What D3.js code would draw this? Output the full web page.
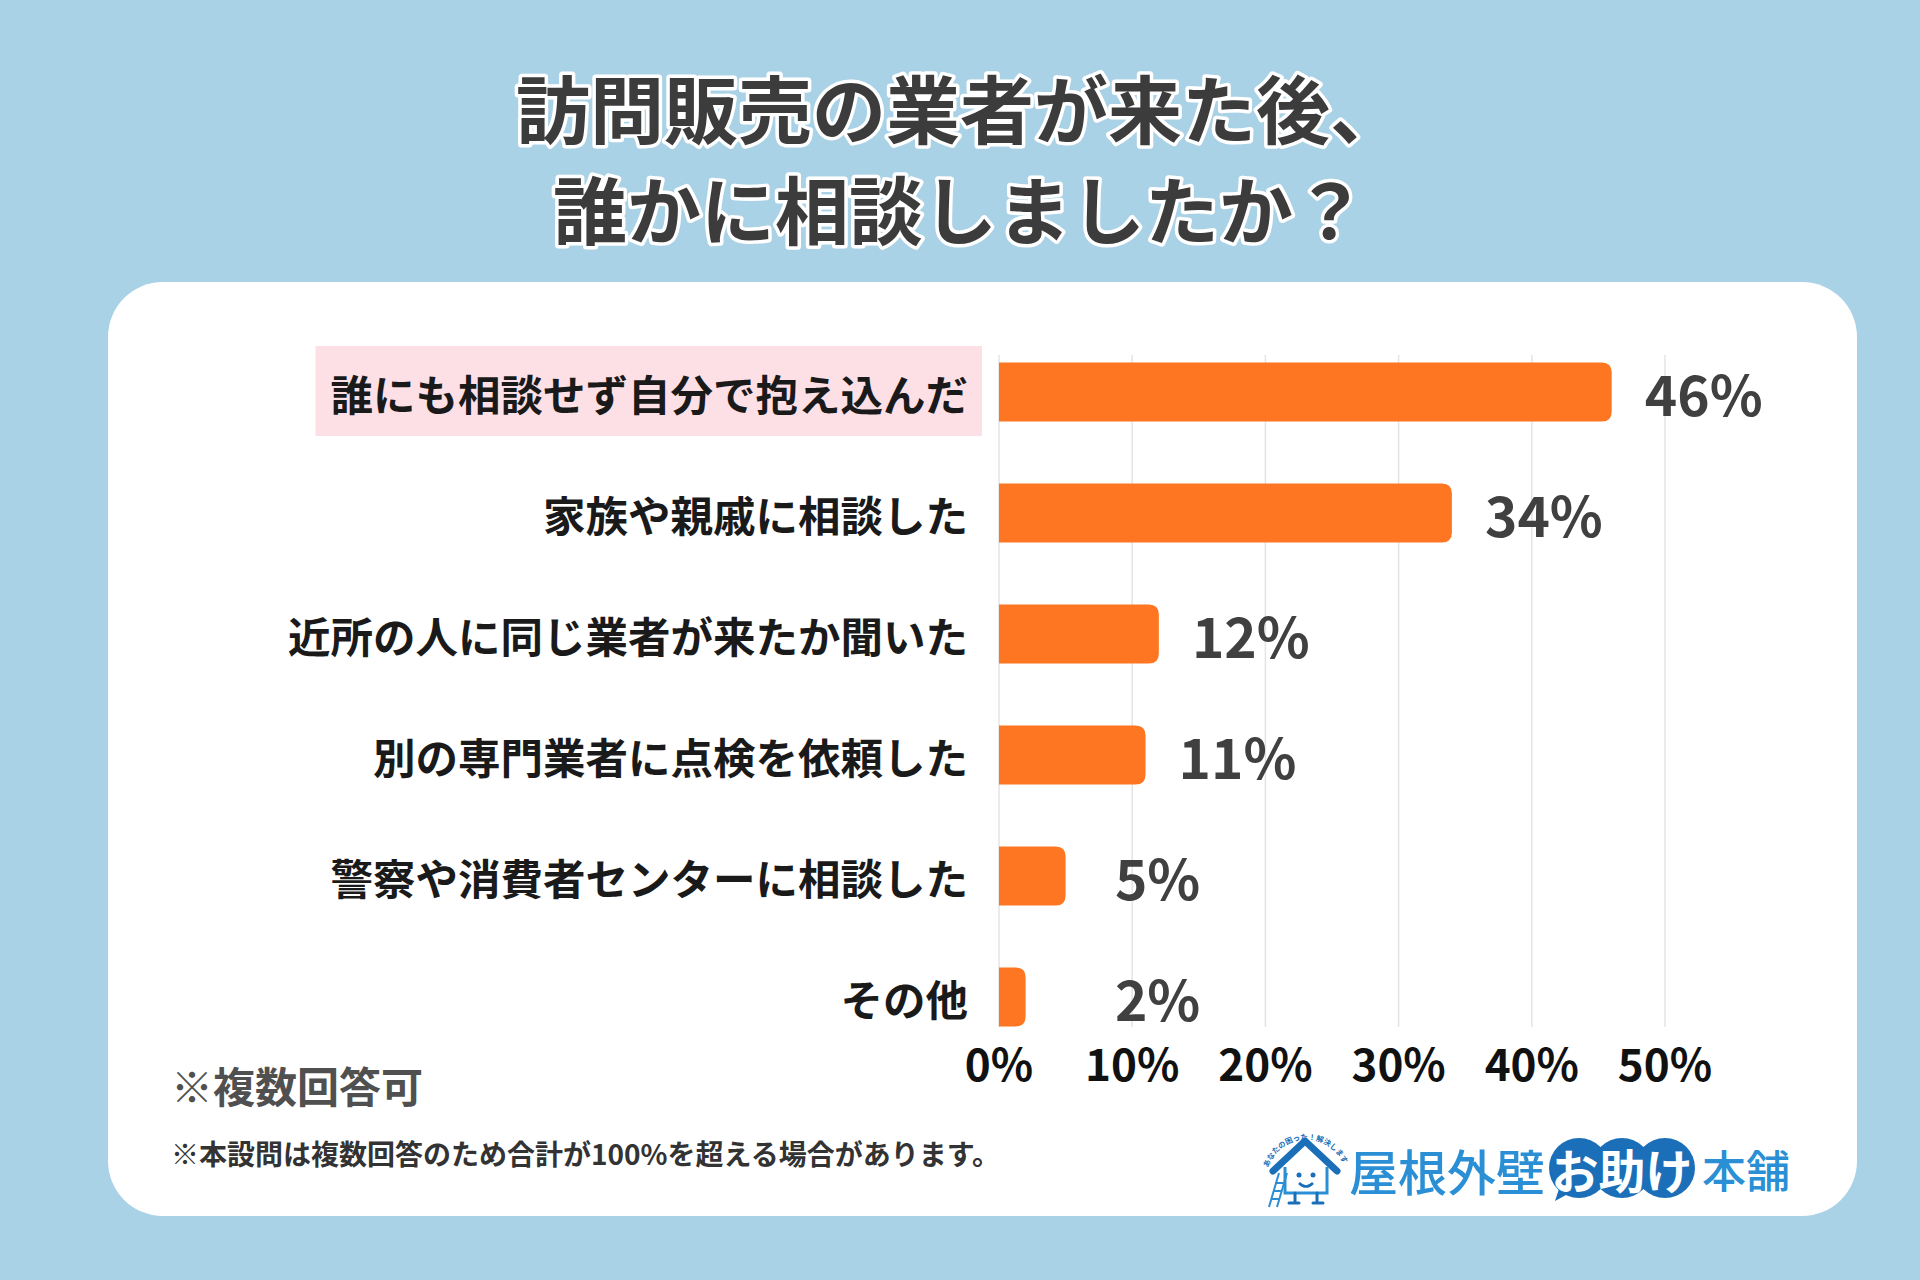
<!DOCTYPE html>
<html>
<head>
<meta charset="utf-8">
<script src="https://cdn.jsdelivr.net/npm/d3@7"></script>
<style>
  html, body { margin: 0; padding: 0; background: #aad2e6; }
  svg { display: block; }
  text { font-family: "Noto Sans CJK JP", "Noto Sans", sans-serif; }
</style>
</head>
<body>
<svg id="chart" width="1920" height="1280"></svg>
<script>
// chart data
var titleLines = ["訪問販売の業者が来た後、", "誰かに相談しましたか？"]
var categories = [
    "誰にも相談せず自分で抱え込んだ",
    "家族や親戚に相談した",
    "近所の人に同じ業者が来たか聞いた",
    "別の専門業者に点検を依頼した",
    "警察や消費者センターに相談した",
    "その他"
]
var values = [46, 34, 12, 11, 5, 2]
var tickValues = [0, 10, 20, 30, 40, 50]
var noteMain = "※複数回答可"
var noteSub = "※本設問は複数回答のため合計が100%を超える場合があります。"
var logoTagline = "あなたの困った！解決します"

var svg = d3.select("#chart")

svg.append("rect")
    .attr("width", 1920).attr("height", 1280)
    .attr("fill", "#aad2e6")

// title
svg.append("g")
    .selectAll("text")
    .data(titleLines)
    .enter()
    .append("text")
    .attr("x", 960)
    .attr("y", (d, i) => 105 + i * 101)
    .attr("text-anchor", "middle")
    .attr("dominant-baseline", "central")
    .attr("font-size", 74)
    .attr("font-weight", 700)
    .attr("fill", "#3c3c3c")
    .attr("stroke", "#ffffff")
    .attr("stroke-width", 7)
    .attr("stroke-linejoin", "round")
    .attr("paint-order", "stroke")
    .text(d => d)

// white card
svg.append("rect")
    .attr("x", 108).attr("y", 282)
    .attr("width", 1749).attr("height", 934)
    .attr("rx", 55).attr("ry", 55)
    .attr("fill", "#ffffff")

var x = d3.scaleLinear().domain([0, 50]).range([999, 1665])
var y = d3.scaleBand()
    .domain(categories)
    .range([331.5, 1057.5])
    .paddingInner(0.512)
    .paddingOuter(0.256)

// gridlines
svg.append("g")
    .selectAll("line")
    .data(tickValues)
    .enter()
    .append("line")
    .attr("x1", d => x(d)).attr("x2", d => x(d))
    .attr("y1", 355).attr("y2", 1027)
    .attr("stroke", "#e4e4e4")
    .attr("stroke-width", 1.5)

// tick labels
svg.append("g")
    .selectAll("text")
    .data(tickValues)
    .enter()
    .append("text")
    .attr("x", d => x(d))
    .attr("y", 1062)
    .attr("text-anchor", "middle")
    .attr("dominant-baseline", "central")
    .attr("font-size", 44)
    .attr("font-weight", 700)
    .attr("fill", "#111111")
    .text(d => d + "%")

// bars, rounded on the right end only
function barPath(x0, x1, y0, h, r) {
    r = Math.min(r, (x1 - x0) / 2, h / 2)
    return "M" + x0 + "," + y0 +
        "H" + (x1 - r) +
        "Q" + x1 + "," + y0 + " " + x1 + "," + (y0 + r) +
        "V" + (y0 + h - r) +
        "Q" + x1 + "," + (y0 + h) + " " + (x1 - r) + "," + (y0 + h) +
        "H" + x0 + "Z"
}

var rows = categories.map((c, i) => ({ cat: c, value: values[i] }))

svg.append("g")
    .selectAll("path")
    .data(rows)
    .enter()
    .append("path")
    .attr("d", d => barPath(x(0), x(d.value), y(d.cat), y.bandwidth(), 10))
    .attr("fill", "#fe7621")

// value labels (small bars get a minimum spot so the text clears the bar)
svg.append("g")
    .selectAll("text")
    .data(rows)
    .enter()
    .append("text")
    .attr("x", d => x(Math.max(d.value, 5)) + 92)
    .attr("y", d => y(d.cat) + y.bandwidth() / 2)
    .attr("text-anchor", "middle")
    .attr("dominant-baseline", "central")
    .attr("font-size", 55)
    .attr("font-weight", 700)
    .attr("fill", "#404040")
    .text(d => d.value + "%")

// category labels
var labelX = 968
var catG = svg.append("g")

var labels = catG.selectAll("text")
    .data(rows)
    .enter()
    .append("text")
    .attr("x", labelX)
    .attr("y", d => y(d.cat) + y.bandwidth() / 2)
    .attr("text-anchor", "end")
    .attr("dominant-baseline", "central")
    .attr("font-size", 42.5)
    .attr("font-weight", 700)
    .attr("fill", "#1a1a1a")
    .text(d => d.cat)

// pink highlight behind the top answer
var firstW = labels.nodes()[0].getComputedTextLength()
var cy0 = y(categories[0]) + y.bandwidth() / 2
catG.insert("rect", "text")
    .attr("x", labelX - firstW - 15)
    .attr("y", cy0 - 46)
    .attr("width", firstW + 29)
    .attr("height", 90)
    .attr("fill", "#fde0e6")

// notes
svg.append("text")
    .attr("x", 171).attr("y", 1084)
    .attr("dominant-baseline", "central")
    .attr("font-size", 42)
    .attr("font-weight", 700)
    .attr("fill", "#505050")
    .text(noteMain)

svg.append("text")
    .attr("x", 171).attr("y", 1153)
    .attr("dominant-baseline", "central")
    .attr("font-size", 28)
    .attr("font-weight", 700)
    .attr("fill", "#333333")
    .text(noteSub)

// logo
var logo = svg.append("g").attr("transform", "translate(1265,1125)")
var blue = "#2a8fd4", dark = "#1b6fb8"

// house icon
logo.append("path")
    .attr("d", "M8,46 L40,16 L72,46")
    .attr("fill", "none").attr("stroke", dark)
    .attr("stroke-width", 7).attr("stroke-linejoin", "round").attr("stroke-linecap", "round")
logo.append("path")
    .attr("d", "M20,42 V68 H62 V42")
    .attr("fill", "none").attr("stroke", blue).attr("stroke-width", 3)
logo.append("circle").attr("cx", 34).attr("cy", 50).attr("r", 2.5).attr("fill", dark)
logo.append("circle").attr("cx", 48).attr("cy", 50).attr("r", 2.5).attr("fill", dark)
logo.append("path")
    .attr("d", "M34,58 Q41,65 48,58")
    .attr("fill", "none").attr("stroke", dark).attr("stroke-width", 2.5)
logo.append("path")
    .attr("d", "M30,68 V76 M52,68 V76 M24,78 H34 M48,78 H58")
    .attr("fill", "none").attr("stroke", dark).attr("stroke-width", 3).attr("stroke-linecap", "round")
logo.append("path")
    .attr("d", "M4,82 L14,48 M12,82 L22,48 M6,74 H14 M8,66 H16 M10,58 H18")
    .attr("fill", "none").attr("stroke", blue).attr("stroke-width", 2)
logo.append("path")
    .attr("id", "taglineArc")
    .attr("d", "M2,48 A40,40 0 0 1 80,44")
    .attr("fill", "none")
logo.append("text")
    .attr("font-size", 7.5).attr("font-weight", 700)
    .attr("fill", dark)
    .append("textPath")
    .attr("href", "#taglineArc")
    .attr("startOffset", "50%")
    .attr("text-anchor", "middle")
    .text(logoTagline)

logo.append("text")
    .attr("x", 84).attr("y", 44)
    .attr("dominant-baseline", "central")
    .attr("font-size", 49).attr("font-weight", 500)
    .attr("fill", blue)
    .text("屋根外壁")

var bubbles = [0, 1, 2]
logo.append("path")
    .attr("d", "M296,58 L290,76 L312,64 Z")
    .attr("fill", dark)
logo.selectAll("circle.b")
    .data(bubbles)
    .enter()
    .append("circle")
    .attr("class", "b")
    .attr("cx", d => 314 + d * 43)
    .attr("cy", 43)
    .attr("r", 30)
    .attr("fill", dark)
logo.append("text")
    .attr("x", 357).attr("y", 43)
    .attr("text-anchor", "middle")
    .attr("dominant-baseline", "central")
    .attr("font-size", 47).attr("font-weight", 700)
    .attr("fill", "#ffffff")
    .text("お助け")
logo.append("text")
    .attr("x", 437).attr("y", 44)
    .attr("dominant-baseline", "central")
    .attr("font-size", 44).attr("font-weight", 500)
    .attr("fill", blue)
    .text("本舗")
</script>
</body>
</html>
